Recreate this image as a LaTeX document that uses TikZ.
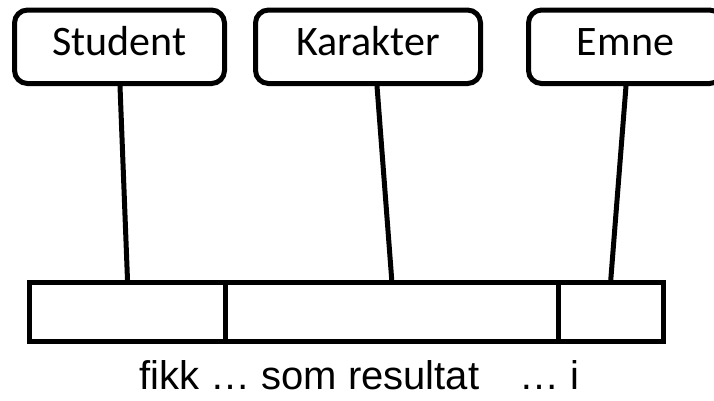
\documentclass[tikz,border=0pt]{standalone}
\usepackage{fontspec}
\setmainfont{Liberation Sans}
\newfontfamily\boxfont{Carlito}
\begin{document}
\begin{tikzpicture}[x=1pt,y=-1pt,
  termbox/.style={draw,line width=5pt,rounded corners=13pt,minimum height=73.5pt,
    inner sep=0pt,font=\boxfont\fontsize{42}{50}\selectfont,text height=30pt,text depth=13.5pt},
  cell/.style={draw,line width=5pt,minimum height=58.5pt,inner sep=0pt},
  link/.style={line width=5pt}]
\useasboundingbox (0,0) rectangle (714,400);
\clip (0,0) rectangle (714,400);
% concept boxes along the top
\node[termbox,minimum width=210pt] (student) at (119.5,46.75) {Student};
\node[termbox,minimum width=225pt] (karakter) at (368,46.75) {Karakter};
\node[termbox,minimum width=194pt] (emne) at (625.5,46.75) {Emne};
% record with three fields
\node[cell,minimum width=196pt] (c1) at (127.5,311.75) {};
\node[cell,minimum width=332.5pt] (c2) at (391.75,311.75) {};
\node[cell,minimum width=105.5pt] (c3) at (610.75,311.75) {};
% links from concepts to fields
\draw[link] ([xshift=0.5pt]student.south) -- (c1.north);
\draw[link] ([xshift=9pt]karakter.south) -- (c2.north);
\draw[link] ([xshift=0.5pt]emne.south) -- (c3.north);
% reading of the record
\node[anchor=base west,inner sep=0pt,font=\fontsize{40}{48}\selectfont] (reading) at (139,389)
  {fikk … som resultat\hspace{40pt}… i};
\end{tikzpicture}
\end{document}
